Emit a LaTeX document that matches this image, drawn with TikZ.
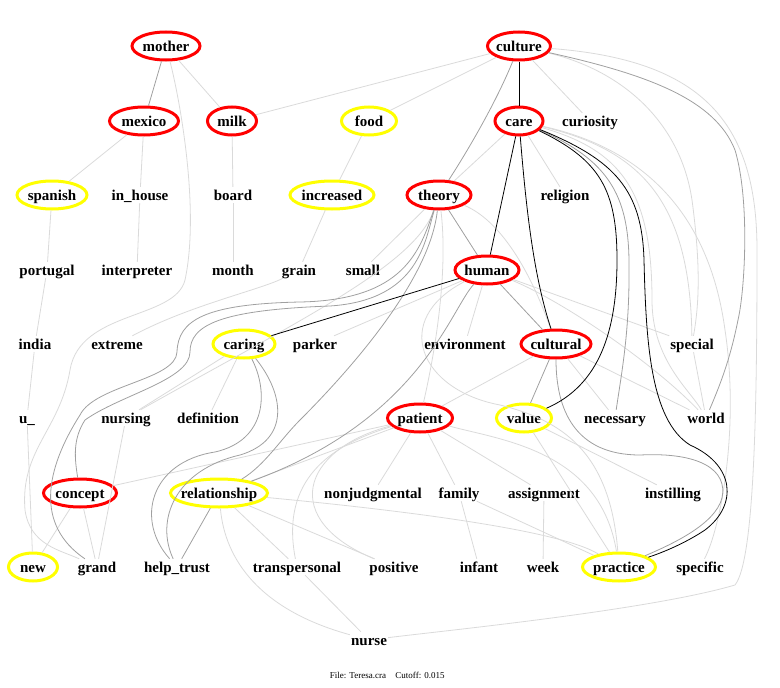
\documentclass[tikz,border=0pt]{standalone}
\usepackage{fontspec}
\setmainfont{Liberation Serif}
\definecolor{RingRed}{RGB}{255,0,0}
\definecolor{RingYellow}{RGB}{255,255,0}
\definecolor{EdgeMid}{RGB}{160,160,160}
\definecolor{EdgeWeak}{RGB}{218,218,218}
\usetikzlibrary{shapes.geometric}

\begin{document}
\begin{tikzpicture}[x=1pt,y=-1pt,
  word/.style={font=\fontsize{15}{17}\selectfont\bfseries,inner sep=1pt,text height=12pt,text depth=2pt},
  redword/.style={word,ellipse,draw=RingRed,line width=3pt,minimum height=28pt,inner xsep=-8pt},
  yellowword/.style={word,ellipse,draw=RingYellow,line width=3pt,minimum height=28pt,inner xsep=-8pt},
  strong/.style={black,line width=0.8pt},
  mid/.style={EdgeMid,line width=0.8pt},
  weak/.style={EdgeWeak,line width=0.8pt}]
  \useasboundingbox (0,0) rectangle (780,688);
  \node[redword,minimum width=68pt] (mother) at (166,46) {mother};
  \node[redword,minimum width=63pt] (culture) at (519,46) {culture};
  \node[redword,minimum width=69pt] (mexico) at (144,121) {mexico};
  \node[redword,minimum width=49pt] (milk) at (232,121) {milk};
  \node[yellowword,minimum width=55pt] (food) at (369,121) {food};
  \node[redword,minimum width=48pt] (care) at (519,121) {care};
  \node[word] (curiosity) at (590,121) {curiosity};
  \node[yellowword,minimum width=70pt] (spanish) at (52,195) {spanish};
  \node[word] (inhouse) at (140,195) {in\_house};
  \node[word] (board) at (233,195) {board};
  \node[yellowword,minimum width=84pt] (increased) at (332,195) {increased};
  \node[redword,minimum width=64pt] (theory) at (439,195) {theory};
  \node[word] (religion) at (565,195) {religion};
  \node[word] (portugal) at (47,270) {portugal};
  \node[word] (interpreter) at (137,270) {interpreter};
  \node[word] (month) at (233,270) {month};
  \node[word] (grain) at (299,270) {grain};
  \node[word] (small) at (363,270) {small};
  \node[redword,minimum width=64pt] (human) at (487,270) {human};
  \node[word] (india) at (35,344) {india};
  \node[word] (extreme) at (117,344) {extreme};
  \node[yellowword,minimum width=62pt] (caring) at (244,344) {caring};
  \node[word] (parker) at (315,344) {parker};
  \node[word] (environment) at (465,344) {environment};
  \node[redword,minimum width=70pt] (cultural) at (556,344) {cultural};
  \node[word] (special) at (692,344) {special};
  \node[word] (uscore) at (27,418) {u\_};
  \node[word] (nursing) at (126,418) {nursing};
  \node[word] (definition) at (208,418) {definition};
  \node[redword,minimum width=65pt] (patient) at (420,418) {patient};
  \node[yellowword,minimum width=55pt] (value) at (524,418) {value};
  \node[word] (necessary) at (615,418) {necessary};
  \node[word] (world) at (706,418) {world};
  \node[redword,minimum width=73pt] (concept) at (80,493) {concept};
  \node[yellowword,minimum width=97pt] (relationship) at (219,493) {relationship};
  \node[word] (nonjudgmental) at (373,493) {nonjudgmental};
  \node[word] (family) at (459,493) {family};
  \node[word] (assignment) at (544,493) {assignment};
  \node[word] (instilling) at (673,493) {instilling};
  \node[yellowword,minimum width=49pt] (new) at (33,567) {new};
  \node[word] (grand) at (97,567) {grand};
  \node[word] (helptrust) at (177,567) {help\_trust};
  \node[word] (transpersonal) at (297,567) {transpersonal};
  \node[word] (positive) at (394,567) {positive};
  \node[word] (infant) at (479,567) {infant};
  \node[word] (week) at (543,567) {week};
  \node[yellowword,minimum width=73pt] (practice) at (619,567) {practice};
  \node[word] (specific) at (700,567) {specific};
  \node[word] (nurse) at (369,640) {nurse};
  \node[font=\fontsize{9}{10}\selectfont,inner sep=0pt] (filelabel) at (358,675) {File: Teresa.cra};
  \node[font=\fontsize{9}{10}\selectfont,inner sep=0pt] (cutofflabel) at (420,675) {Cutoff: 0.015};

  \draw[weak] (mother) -- (milk);
  \draw[weak] (mexico) -- (spanish);
  \draw[weak] (mexico) -- (inhouse);
  \draw[weak] (inhouse) -- (interpreter);
  \draw[weak] (milk) -- (board);
  \draw[weak] (board) -- (month);
  \draw[weak] (food) -- (increased);
  \draw[weak] (increased) -- (grain);
  \draw[weak] (spanish) -- (portugal);
  \draw[weak] (portugal) -- (india);
  \draw[weak] (india) -- (uscore);
  \draw[weak] (uscore) -- (new);
  \draw[weak] (culture) -- (milk);
  \draw[weak] (culture) -- (food);
  \draw[weak] (culture) -- (curiosity);
  \draw[weak] (care) -- (theory);
  \draw[weak] (care) -- (religion);
  \draw[weak] (theory) -- (small);
  \draw[weak] (theory) .. controls (500,220) and (530,270) .. (cultural);
  \draw[weak] (theory) .. controls (447,260) and (440,330) .. (patient);
  \draw[weak] (theory) .. controls (415,265) and (300,320) .. (nursing);
  \draw[weak] (human) -- (environment);
  \draw[weak] (human) -- (special);
  \draw[weak] (human) .. controls (560,300) and (650,360) .. (world);
  \draw[weak] (human) -- (parker);
  \draw[weak] (human) .. controls (390,320) and (420,390) .. (500,405) .. controls (560,420) and (610,450) .. (practice);
  \draw[weak] (cultural) -- (patient);
  \draw[weak] (cultural) -- (necessary);
  \draw[weak] (cultural) -- (world);
  \draw[weak] (special) -- (world);
  \draw[weak] (caring) -- (definition);
  \draw[weak] (caring) -- (nursing);
  \draw[weak] (grain) .. controls (260,290) and (190,305) .. (extreme);
  \draw[weak] (nursing) -- (grand);
  \draw[weak] (concept) -- (new);
  \draw[weak] (concept) -- (grand);
  \draw[weak] (concept) -- (patient);
  \draw[weak] (patient) -- (nonjudgmental);
  \draw[weak] (patient) -- (family);
  \draw[weak] (patient) -- (assignment);
  \draw[weak] (patient) -- (relationship);
  \draw[weak] (patient) .. controls (330,445) and (280,480) .. (transpersonal);
  \draw[weak] (patient) .. controls (300,450) and (280,520) .. (positive);
  \draw[weak] (patient) .. controls (500,440) and (600,450) .. (practice);
  \draw[weak] (family) -- (infant);
  \draw[weak] (family) -- (practice);
  \draw[weak] (assignment) -- (week);
  \draw[weak] (value) -- (instilling);
  \draw[weak] (value) -- (practice);
  \draw[weak] (relationship) -- (positive);
  \draw[weak] (relationship) -- (transpersonal);
  \draw[weak] (relationship) .. controls (400,510) and (560,530) .. (practice);
  \draw[weak] (relationship) .. controls (225,560) and (260,610) .. (nurse);
  \draw[weak] (transpersonal) -- (nurse);
  \draw[weak] (culture) .. controls (700,60) and (757,120) .. (757,250) .. controls (757,400) and (755,560) .. (735,585) .. controls (650,610) and (450,630) .. (nurse);
  \draw[weak] (culture) .. controls (620,70) and (680,120) .. (692,200) .. controls (700,260) and (700,300) .. (special);
  \draw[weak] (care) .. controls (640,150) and (690,200) .. (special);
  \draw[weak] (care) .. controls (620,150) and (652,190) .. (652,300) .. controls (652,360) and (690,390) .. (world);
  \draw[weak] (care) .. controls (650,150) and (710,220) .. (725,330) .. controls (740,430) and (720,530) .. (specific);
  \draw[weak] (mother) .. controls (180,100) and (200,210) .. (185,280) .. controls (175,320) and (80,310) .. (70,370) .. controls (60,430) and (20,450) .. (25,510) .. controls (30,545) and (60,550) .. (grand);

  \draw[mid] (mother) -- (mexico);
  \draw[mid] (culture) .. controls (495,105) and (465,155) .. (theory);
  \draw[mid] (culture) .. controls (650,75) and (715,100) .. (735,150) .. controls (750,200) and (745,290) .. (738,320) .. controls (730,360) and (720,385) .. (world);
  \draw[mid] (theory) -- (human);
  \draw[mid] (human) -- (cultural);
  \draw[mid] (cultural) -- (value);
  \draw[mid] (care) .. controls (608,160) and (628,195) .. (629,260) .. controls (630,330) and (622,370) .. (necessary);
  \draw[mid] (cultural) .. controls (556,410) and (575,455) .. (640,455) .. controls (700,452) and (728,470) .. (722,498) .. controls (715,525) and (670,545) .. (practice);
  \draw[mid] (theory) .. controls (420,250) and (405,300) .. (300,302) .. controls (205,304) and (178,320) .. (177,352) .. controls (176,380) and (95,385) .. (80,415) .. controls (45,470) and (35,525) .. (grand);
  \draw[mid] (theory) .. controls (425,240) and (420,300) .. (330,306) .. controls (220,310) and (190,325) .. (190,352) .. controls (190,380) and (120,395) .. (85,420) .. controls (72,440) and (75,460) .. (concept);
  \draw[mid] (theory) .. controls (430,280) and (350,370) .. (300,420) .. controls (280,440) and (265,465) .. (relationship);
  \draw[mid] (human) .. controls (450,310) and (420,420) .. (relationship);
  \draw[mid] (caring) .. controls (268,390) and (268,440) .. (215,452) .. controls (150,462) and (135,520) .. (helptrust);
  \draw[mid] (caring) .. controls (285,395) and (290,440) .. (240,455) .. controls (175,470) and (155,520) .. (helptrust);
  \draw[mid] (relationship) -- (helptrust);

  \draw[strong] (culture) -- (care);
  \draw[strong] (care) -- (human);
  \draw[strong] (care) .. controls (527,220) and (535,280) .. (cultural);
  \draw[strong] (care) .. controls (600,160) and (617,190) .. (617,260) .. controls (617,330) and (600,385) .. (value);
  \draw[strong] (care) .. controls (615,160) and (642,190) .. (644,260) .. controls (646,340) and (650,420) .. (690,445) .. controls (735,465) and (738,505) .. (705,530) .. controls (690,540) and (670,550) .. (practice);
  \draw[strong] (human) -- (caring);
\end{tikzpicture}
\end{document}
